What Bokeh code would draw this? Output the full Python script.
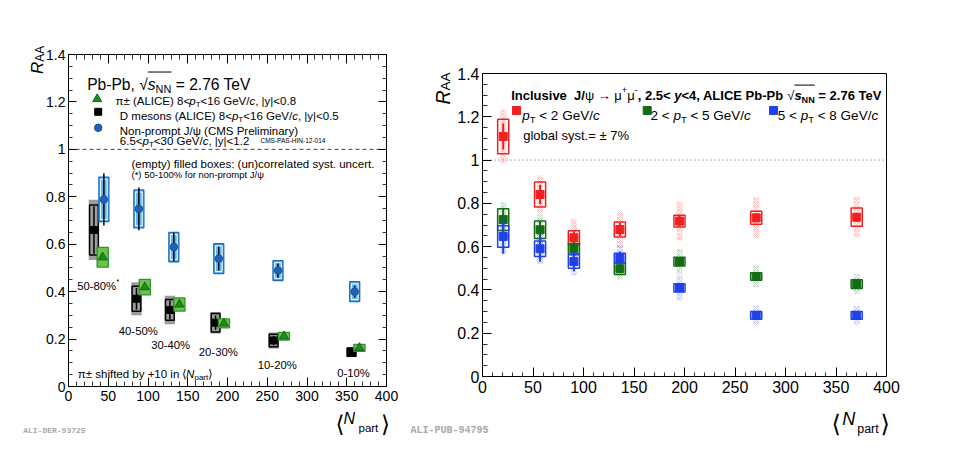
import math
import numpy as np
from bokeh.plotting import figure
from bokeh.models import (Range1d, FixedTicker, Label, LinearAxis, CustomJSTickFormatter)
from bokeh.layouts import row
from bokeh.embed import file_html
from bokeh.resources import INLINE

# ---------------- data: left panel ----------------
cent_labels = ["50-80%", "40-50%", "30-40%", "20-30%", "10-20%", "0-10%"]

npart_D = [32, 85.5, 127.5, 185, 258, 356]
raa_D = [0.66, 0.37, 0.323, 0.269, 0.194, 0.145]
stat_D = [0.10, 0.045, 0.04, 0.03, 0.02, 0.012]
syst_unc_D = [0.127, 0.07, 0.06, 0.045, 0.034, 0.021]
syst_cor_D = [0.105, 0.053, 0.044, 0.039, 0.026, 0.017]

npart_pi = [43, 96, 139.5, 195.5, 271, 366]
raa_pi = [0.545, 0.419, 0.346, 0.266, 0.212, 0.163]
syst_pi = [0.042, 0.033, 0.028, 0.019, 0.016, 0.015]

npart_jpsi = [44.5, 88.5, 132.5, 189, 263.5, 360]
raa_jpsi = [0.789, 0.749, 0.588, 0.539, 0.489, 0.40]
stat_jpsi = [0.11, 0.09, 0.06, 0.05, 0.03, 0.025]
syst_jpsi = [0.094, 0.08, 0.062, 0.063, 0.042, 0.042]

# ---------------- data: right panel ----------------
npart_r = [20.5, 57, 90.5, 136, 195, 271, 370.5]
raa_low = [1.109, 0.841, 0.641, 0.679, 0.718, 0.733, 0.736]
stat_low = [0.06, 0.045, 0.03, 0.03, 0.025, 0.02, 0.02]
syst_low = [0.08, 0.058, 0.033, 0.035, 0.027, 0.03, 0.042]
corr_low = [0.123, 0.088, 0.086, 0.085, 0.09, 0.094, 0.094]
raa_mid = [0.725, 0.678, 0.59, 0.498, 0.531, 0.462, 0.427]
stat_mid = [0.05, 0.04, 0.025, 0.02, 0.015, 0.012, 0.012]
syst_mid = [0.05, 0.04, 0.024, 0.027, 0.02, 0.017, 0.02]
corr_mid = [0.08, 0.07, 0.06, 0.05, 0.058, 0.05, 0.046]
raa_high = [0.647, 0.59, 0.531, 0.547, 0.41, 0.282, 0.282]
stat_high = [0.08, 0.06, 0.045, 0.03, 0.02, 0.012, 0.012]
syst_high = [0.05, 0.036, 0.031, 0.022, 0.019, 0.018, 0.018]
corr_high = [0.08, 0.07, 0.064, 0.06, 0.058, 0.044, 0.044]

x_ticks = [0, 50, 100, 150, 200, 250, 300, 350, 400]
y_ticks = [0, 0.2, 0.4, 0.6, 0.8, 1.0, 1.2, 1.4]
y_tick_labels = ["0", "0.2", "0.4", "0.6", "0.8", "1", "1.2", "1.4"]

# ---------------- helpers ----------------
FONT = "Liberation Sans"


def _w(spec):
    d = {}
    for w, chars in spec:
        for c in chars:
            d[c] = w
    return d


REG_W = _w([(278, " !,./:;[]\\ftI"), (222, "ijl"), (333, "()-r"), (389, "*"),
            (500, "cksvxyzJ"), (556, "0123456789abdeghnopqu?#$_L"), (584, "<=>+±"),
            (611, "FTZ"), (667, "ABEKPSVXY"), (722, "CDHNRUw"), (778, "GOQ"),
            (833, "Mm"), (889, "%"), (944, "W"), (260, "|"), (578, "π"), (710, "ψ"),
            (576, "μ"), (1000, "→"), (549, "√"), (390, "⟨⟩")])
BOLD_W = _w([(278, " ,./;Iijl"), (333, "()-ft:"), (389, "*r"), (500, "z"),
             (556, "0123456789aceksvxyJ?"), (584, "<=>+±"), (611, "bdghnopquLFTZ"),
             (667, "EPSVXY"), (722, "ABCDHKNRU"), (778, "GOQw"), (833, "M"),
             (889, "%m"), (280, "|"), (549, "√"), (578, "π"), (710, "ψ"), (576, "μ"),
             (1000, "→")])

CH = 446                      # canvas height of both panels
LW, RW = 408, 540             # canvas widths
# pixel positions (page) of x=0, x=400, y=0, y=1.4 for each panel
L_GEOM = (0, 68, 386, 386, 54)
R_GEOM = (408, 482, 886, 376, 73)


class Conv:
    def __init__(self, geom, cw):
        ox, x0, x1, y0, y1 = geom
        self.kx = 400.0 / (x1 - x0)
        self.ky = 1.4 / (y0 - y1)
        self.x0, self.y0 = x0, y0
        self.xs, self.xe = (ox - x0) * self.kx, (ox + cw - x0) * self.kx
        self.ys, self.ye = (y0 - CH) * self.ky, y0 * self.ky

    def x(self, px):
        return (px - self.x0) * self.kx

    def y(self, py):
        return (self.y0 - py) * self.ky


def rich(p, cv, x, y, pieces, size, color="black", bold=False, align="left", font=FONT):
    items = []
    for pc in pieces:
        text, kind = pc[0], pc[1]
        flags = pc[2] if len(pc) > 2 else ""
        s = size * 0.7 if kind in ("sub", "sup", "isub") else size
        b = bold
        if "r" in flags:
            b = False
        if "b" in flags:
            b = True
        tab = BOLD_W if b else REG_W
        w = sum(tab.get(c, 556) for c in text) * s / 1000
        items.append((text, kind, flags, s, b, w))
    total = sum(it[5] for it in items)
    if align == "center":
        x -= total / 2
    ox = []
    for text, kind, flags, s, b, w in items:
        tab = BOLD_W if b else REG_W
        core = text.strip(" ")
        lead = (len(text) - len(text.lstrip(" "))) * tab[" "] * s / 1000
        if core:
            dy = 0.32 * size if kind in ("sub", "isub") else (-0.40 * size if kind == "sup" else 0)
            st = "italic" if kind in ("i", "isub") else "normal"
            if b:
                st = "bold" if st == "normal" else "bold italic"
            p.add_layout(Label(x=cv.x(x + lead), y=cv.y(y + dy), text=core, text_font=font,
                               text_font_size=f"{s:.2f}px", text_font_style=st,
                               text_color=color, text_align="left",
                               text_baseline="alphabetic"))
        if "o" in flags:
            ox.append((x, x + w))
        x += w
    if ox:
        xa = min(a for a, _ in ox)
        xb = max(bb for _, bb in ox)
        yo = y - 0.80 * size
        p.segment(x0=[cv.x(xa)], y0=[cv.y(yo)], x1=[cv.x(xb)], y1=[cv.y(yo)],
                  line_color=color, line_width=1.0)
    return x


def lab(p, cv, x, y, text, size, font=FONT, style="normal", color="black", angle=0.0):
    p.add_layout(Label(x=cv.x(x), y=cv.y(y), text=text, text_font=font,
                       text_font_size=f"{size}px", text_font_style=style,
                       text_color=color, angle=angle, text_align="left",
                       text_baseline="alphabetic"))


x_minor = [v for v in range(0, 401, 10) if v % 50 != 0]
y_minor = [round(v, 2) for v in np.arange(0, 1.4001, 0.05) if round(v * 100) % 20 != 0]
y_over = dict(zip(y_ticks, y_tick_labels))
x_lo, x_hi = x_ticks[0], x_ticks[-1]
y_lo, y_hi = y_ticks[0], y_ticks[-1]


def make_fig(cv, cw):
    p = figure(frame_width=cw, frame_height=CH, x_range=Range1d(cv.xs, cv.xe),
               y_range=Range1d(cv.ys, cv.ye), output_backend="svg", toolbar_location=None,
               title=None, min_border=0, background_fill_color="white",
               border_fill_color="white")
    p.grid.grid_line_color = None
    p.outline_line_color = None
    return p


def setup_axes(p, lab_size, xmaj, xmin, ymaj, ymin, ystand, mirror):
    xa, ya = p.xaxis[0], p.yaxis[0]
    xa.fixed_location, xa.bounds = y_lo, (x_lo, x_hi)
    ya.fixed_location, ya.bounds = x_lo, (y_lo, y_hi)
    xa.ticker = FixedTicker(ticks=x_ticks, minor_ticks=x_minor)
    ya.ticker = FixedTicker(ticks=y_ticks, minor_ticks=y_minor)
    ya.major_label_overrides = y_over
    xa.major_label_standoff = 4
    ya.major_label_standoff = ystand
    xa.major_tick_in, xa.major_tick_out = xmaj, 0
    xa.minor_tick_in, xa.minor_tick_out = xmin, 0
    ya.major_tick_in, ya.major_tick_out = ymaj, 0
    ya.minor_tick_in, ya.minor_tick_out = ymin, 0
    blank = CustomJSTickFormatter(code="return ''")
    if mirror:
        tt = FixedTicker(ticks=x_ticks, minor_ticks=x_minor)
        rt = FixedTicker(ticks=y_ticks, minor_ticks=y_minor)
    else:
        tt = FixedTicker(ticks=[], minor_ticks=[])
        rt = FixedTicker(ticks=[], minor_ticks=[])
    top = LinearAxis(fixed_location=y_hi, bounds=(x_lo, x_hi), ticker=tt, formatter=blank,
                     major_tick_in=xmaj, major_tick_out=0, minor_tick_in=xmin, minor_tick_out=0)
    rgt = LinearAxis(fixed_location=x_hi, bounds=(y_lo, y_hi), ticker=rt, formatter=blank,
                     major_tick_in=ymaj, major_tick_out=0, minor_tick_in=ymin, minor_tick_out=0)
    p.add_layout(top, "above")
    p.add_layout(rgt, "right")
    for ax in [xa, ya, top, rgt]:
        ax.major_label_text_font = FONT
        ax.major_label_text_font_size = f"{lab_size}px"
        ax.major_label_text_color = "black"
        ax.axis_line_color = "black"
        ax.axis_line_width = 1
        ax.major_tick_line_color = "black"
        ax.minor_tick_line_color = "#333333"


# ---------------- left figure ----------------
cvL = Conv(L_GEOM, LW)
pL = make_fig(cvL, LW)
setup_axes(pL, 14, 9, 5, 8, 4, 3, True)

pL.segment(x0=[x_lo], x1=[x_hi], y0=[1.0], y1=[1.0], line_color="#444444",
           line_dash="4 3", line_width=1)

nD, rD = np.array(npart_D), np.array(raa_D)
pL.quad(left=nD - 6.5, right=nD + 6.5, bottom=rD - np.array(syst_unc_D),
        top=rD + np.array(syst_unc_D), fill_color="#9c9c9c", line_color=None)
pL.quad(left=nD - 5.5, right=nD + 5.5, bottom=rD - np.array(syst_cor_D),
        top=rD + np.array(syst_cor_D), fill_color=None, line_color="black", line_width=1.5)
pL.segment(x0=nD, x1=nD, y0=rD - np.array(stat_D), y1=rD + np.array(stat_D),
           line_color="black", line_width=1.5)
pL.scatter(nD, rD, marker="square", size=7, fill_color="black", line_color="black")

nJ, rJ, sJ = np.array(npart_jpsi), np.array(raa_jpsi), np.array(syst_jpsi)
pL.quad(left=nJ - 6.3, right=nJ + 6.3, bottom=rJ - sJ, top=rJ + sJ,
        fill_color="#62b6ee", line_color="#1a6cc0", line_width=1.3)
pL.quad(left=nJ - 4.2, right=nJ + 4.2, bottom=rJ - sJ + 0.009, top=rJ + sJ - 0.009,
        fill_color=None, line_color="white", line_width=0.9)
pL.segment(x0=nJ, x1=nJ, y0=rJ - np.array(stat_jpsi), y1=rJ + np.array(stat_jpsi),
           line_color="black", line_width=1.5)
pL.scatter(nJ, rJ, marker="circle", size=7.5, fill_color="#2062b6", line_color="#1a4f95")

nP, rP, sP = np.array(npart_pi), np.array(raa_pi), np.array(syst_pi)
pL.quad(left=nP - 7, right=nP + 7, bottom=rP - sP, top=rP + sP,
        fill_color="#6dc24c", line_color="#2c962c", line_width=1.3)
pL.scatter(nP, rP, marker="triangle", size=9, fill_color="#1f8a1f", line_color="#14661a")

# legend (left)
pL.scatter([cvL.x(96.7)], [cvL.y(98.5)], marker="triangle", size=9, fill_color="#1f8a1f",
           line_color="#14661a")
pL.scatter([cvL.x(97.7)], [cvL.y(111.3)], marker="square", size=7, fill_color="black",
           line_color="black")
pL.scatter([cvL.x(97.7)], [cvL.y(127.3)], marker="circle", size=7.5, fill_color="#2062b6",
           line_color="#1a4f95")

rich(pL, cvL, 86.7, 84, [("Pb-Pb, ", "n"), ("√", "n"), ("s", "i", "o"), ("NN", "sub", "o"),
                        (" = 2.76 TeV", "n")], 15.6)
rich(pL, cvL, 115, 100, [("π± (ALICE) 8<", "n"), ("p", "i"), ("T", "sub"), ("<16 GeV/", "n"),
                        ("c", "i"), (", |y|<0.8", "n")], 11.5)
rich(pL, cvL, 119.3, 115.3, [("D mesons (ALICE) 8<", "n"), ("p", "i"), ("T", "sub"),
                            ("<16 GeV/", "n"), ("c", "i"), (", |y|<0.5", "n")], 11.5)
rich(pL, cvL, 119.3, 130.5, [("Non-prompt J/ψ (CMS Preliminary)", "n")], 11.5)
rich(pL, cvL, 119.3, 140.7, [("6.5<", "n"), ("p", "i"), ("T", "sub"), ("<30 GeV/", "n"),
                            ("c", "i"), (", |y|<1.2", "n")], 11.5)
rich(pL, cvL, 260, 140, [("CMS-PAS-HIN-12-014", "n")], 6.5)
rich(pL, cvL, 131, 163.3, [("(empty) filled boxes: (un)correlated syst. uncert.", "n")], 11.5)
rich(pL, cvL, 131, 174.3, [("(*) 50-100% for non-prompt J/ψ", "n")], 9.5)

cent_pos = [(76.7, 285.7), (118.3, 330.7), (150.7, 344), (198.3, 351.3), (257.3, 364),
            (336.7, 372.7)]
for i, (txt, (cx, cy)) in enumerate(zip(cent_labels, cent_pos)):
    pcs = [(txt, "n")] + ([("*", "sup")] if i == 0 else [])
    rich(pL, cvL, cx, cy, pcs, 11.3)
rich(pL, cvL, 77.3, 373.3, [("π± shifted by +10 in ", "n"), ("⟨", "n"), ("N", "i"),
                           ("part", "sub"), ("⟩", "n")], 11.5)

# axis titles (left)
lab(pL, cvL, 37, 73.5, "R", 17, style="italic", angle=math.pi / 2)
lab(pL, cvL, 39, 61.3, "AA", 11.9, angle=math.pi / 2)
lab(pL, cvL, 335, 423, "⟨", 23, font="DejaVu Sans")
lab(pL, cvL, 343, 418, "N", 16, style="italic")
lab(pL, cvL, 358, 427, "part", 11.5)
lab(pL, cvL, 380.5, 423, "⟩", 23, font="DejaVu Sans")
lab(pL, cvL, 22.7, 430, "ALI-DER-93725", 8, font="Liberation Mono", style="bold",
    color="#a8a8a8")

# ---------------- right figure ----------------
cvR = Conv(R_GEOM, RW)
pR = make_fig(cvR, RW)
setup_axes(pR, 16, 9, 4, 9, 5, 3, False)

pR.segment(x0=[x_lo], x1=[x_hi], y0=[1.0], y1=[1.0], line_color="#666666",
           line_dash="1 3", line_width=1)

nR = np.array(npart_r)
series = [(raa_low, stat_low, syst_low, corr_low, "#f02020"),
          (raa_mid, stat_mid, syst_mid, corr_mid, "#146c14"),
          (raa_high, stat_high, syst_high, corr_high, "#2040e8")]
for raa, st, sy, co, col in series:
    r, co = np.array(raa), np.array(co)
    pR.quad(left=nR - 3, right=nR + 3, bottom=r - co, top=r + co, fill_color=col,
            fill_alpha=0.07, hatch_pattern="x", hatch_color=col, hatch_alpha=0.35,
            hatch_scale=4, hatch_weight=0.6, line_color=None)
for raa, st, sy, co, col in series:
    r, st, sy = np.array(raa), np.array(st), np.array(sy)
    pR.quad(left=nR - 5.5, right=nR + 5.5, bottom=r - sy, top=r + sy, fill_color=None,
            line_color=col, line_width=1.5)
    pR.segment(x0=nR, x1=nR, y0=r - st, y1=r + st, line_color=col, line_width=2)
    pR.scatter(nR, r, marker="square", size=8, fill_color=col, line_color=col)

rich(pR, cvR, 510.7, 95, [("Inclusive", "n"), ("  J/", "n"), ("ψ", "n", "r"), (" ", "n"),
                         ("→", "n", "r"), (" ", "n"), ("μ", "n", "r"), ("+", "sup", "r"),
                         ("μ", "n", "r"), ("-", "sup", "r"), (",  2.5<", "n"), ("y", "i"),
                         ("<4, ALICE Pb-Pb ", "n"), ("√", "n", "r"), ("s", "i", "o"),
                         ("NN", "sub", "o"), (" = 2.76 TeV", "n")], 13, bold=True)
leg_cols = ["#f02020", "#146c14", "#2040e8"]
pR.scatter([cvR.x(516), cvR.x(646.7), cvR.x(773)], [cvR.y(110)] * 3, marker="square",
           size=8, fill_color=leg_cols, line_color=leg_cols)
rich(pR, cvR, 521.7, 115, [("p", "i"), ("T", "sub"), (" < 2 GeV/", "n"), ("c", "i")], 13.5)
rich(pR, cvR, 650, 115, [("2 < ", "n"), ("p", "i"), ("T", "sub"), (" < 5 GeV/", "n"),
                        ("c", "i")], 13.5)
rich(pR, cvR, 777.3, 115, [("5 < ", "n"), ("p", "i"), ("T", "sub"), (" < 8 GeV/", "n"),
                          ("c", "i")], 13.5)
rich(pR, cvR, 522.7, 135, [("global syst.= ± 7%", "n")], 13)

lab(pR, cvR, 442, 104, "R", 19.5, style="italic", angle=math.pi / 2)
lab(pR, cvR, 445, 89.9, "AA", 13.5, angle=math.pi / 2)
lab(pR, cvR, 831, 423, "⟨", 24, font="DejaVu Sans")
lab(pR, cvR, 841.7, 418, "N", 18, style="italic")
lab(pR, cvR, 856.7, 428, "part", 12.5)
lab(pR, cvR, 880, 423, "⟩", 24, font="DejaVu Sans")
lab(pR, cvR, 410, 429.5, "ALI-PUB-94795", 10, font="Liberation Mono", style="bold",
    color="#a8a8a8")

layout = row(pL, pR)
open("out.html", "w").write(file_html(layout, INLINE))
